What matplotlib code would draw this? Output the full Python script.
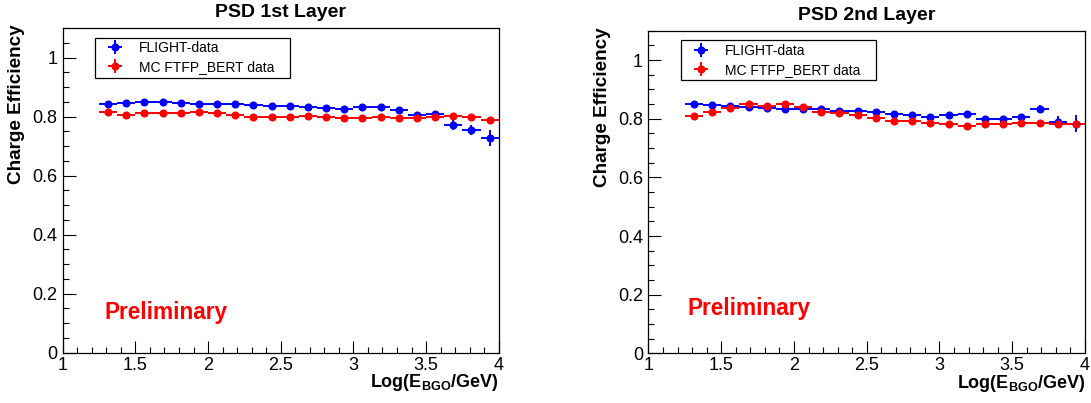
import numpy as np
import matplotlib
matplotlib.use("Agg")
import matplotlib.pyplot as plt
from matplotlib.ticker import MultipleLocator, FuncFormatter

# Police proche de Helvetica (style ROOT)
plt.rcParams['font.family'] = ['Liberation Sans', 'DejaVu Sans']
plt.rcParams['mathtext.fontset'] = 'custom'
plt.rcParams['mathtext.rm'] = 'Liberation Sans'
plt.rcParams['mathtext.bf'] = 'Liberation Sans:bold'

# Centres des bins en Log(E_BGO/GeV), largeur 0.125
x_bins = [1.3125, 1.4375, 1.5625, 1.6875, 1.8125, 1.9375, 2.0625, 2.1875,
          2.3125, 2.4375, 2.5625, 2.6875, 2.8125, 2.9375, 3.0625, 3.1875,
          3.3125, 3.4375, 3.5625, 3.6875, 3.8125, 3.9375]
demi_largeur = 0.0625

# PSD 1ere couche
psd1_vol = [0.844, 0.847, 0.849, 0.848, 0.846, 0.843, 0.841, 0.841, 0.838, 0.835, 0.835,
            0.834, 0.829, 0.825, 0.834, 0.832, 0.822, 0.805, 0.807, 0.772, 0.756, 0.728]
psd1_vol_err = [0.002, 0.002, 0.002, 0.002, 0.002, 0.002, 0.002, 0.002, 0.002, 0.002, 0.002,
                0.002, 0.003, 0.003, 0.003, 0.003, 0.003, 0.004, 0.007, 0.016, 0.017, 0.027]
psd1_mc = [0.815, 0.805, 0.811, 0.813, 0.812, 0.817, 0.811, 0.805, 0.799, 0.799, 0.800,
           0.802, 0.798, 0.794, 0.794, 0.797, 0.794, 0.796, 0.799, 0.802, 0.800, 0.788]
psd1_mc_err = [0.002] * 22

# PSD 2e couche
psd2_vol = [0.849, 0.846, 0.843, 0.839, 0.835, 0.834, 0.832, 0.832, 0.826, 0.826, 0.822,
            0.816, 0.812, 0.807, 0.812, 0.817, 0.800, 0.800, 0.806, 0.833, 0.790, 0.783]
psd2_vol_err = [0.002, 0.002, 0.002, 0.002, 0.002, 0.002, 0.002, 0.002, 0.002, 0.002, 0.002,
                0.002, 0.003, 0.003, 0.003, 0.003, 0.003, 0.004, 0.005, 0.014, 0.019, 0.028]
psd2_mc = [0.808, 0.823, 0.835, 0.851, 0.842, 0.849, 0.840, 0.823, 0.818, 0.812, 0.803,
           0.793, 0.792, 0.785, 0.782, 0.775, 0.782, 0.782, 0.784, 0.784, 0.783, 0.783]
psd2_mc_err = [0.003] * 22

titres = ["PSD 1st Layer", "PSD 2nd Layer"]
etiquettes = ["FLIGHT-data", "MC FTFP_BERT data"]


def tracer_panneau(ax, titre, y_vol, e_vol, y_mc, e_mc, prelim_xy):
    """Trace un panneau d'efficacite de charge (style ROOT)"""
    xerr = [demi_largeur] * len(x_bins)
    ax.errorbar(x_bins, y_vol, xerr=xerr, yerr=e_vol, fmt='o', color='blue',
                ms=4.8, elinewidth=1.4, capsize=0, label=etiquettes[0])
    ax.errorbar(x_bins, y_mc, xerr=xerr, yerr=e_mc, fmt='o', color='red',
                ms=4.8, elinewidth=1.4, capsize=0, label=etiquettes[1])

    ax.set_xlim(1, 4)
    ax.set_ylim(0, 1.1)
    ax.xaxis.set_major_locator(MultipleLocator(0.5))
    ax.xaxis.set_minor_locator(MultipleLocator(0.1))
    ax.yaxis.set_major_locator(MultipleLocator(0.2))
    ax.yaxis.set_minor_locator(MultipleLocator(0.05))
    fmt = FuncFormatter(lambda v, p: "%g" % round(v, 3))
    ax.xaxis.set_major_formatter(fmt)
    ax.yaxis.set_major_formatter(fmt)
    ax.tick_params(which='both', direction='in', top=False, right=False,
                   labelsize=13, width=0.8)
    ax.tick_params(axis='y', pad=4)
    ax.tick_params(axis='x', pad=3)
    ax.tick_params(which='major', length=9)
    ax.tick_params(which='minor', length=4.5)
    for s in ax.spines.values():
        s.set_linewidth(0.9)

    ax.text(0.5, 1.048, titre, transform=ax.transAxes, ha='center', va='center',
            fontsize=14, fontweight='bold')
    ax.text(-0.105, 1.01, "Charge Efficiency", transform=ax.transAxes, rotation=90,
            ha='center', va='top', fontsize=13.6, fontweight='bold')
    ax.text(1.0, -0.107, r"Log(E$_{\mathbf{BGO}}$/GeV)", transform=ax.transAxes,
            ha='right', va='baseline', fontsize=13, fontweight='bold')
    ax.text(prelim_xy[0], prelim_xy[1], "Preliminary", transform=ax.transAxes,
            ha='left', va='center', fontsize=16.3, fontweight='bold', color='red')

    leg = ax.legend(loc='upper left', bbox_to_anchor=(0.074, 0.846, 0.447, 0.124),
                    mode='expand', borderaxespad=0, fancybox=False, framealpha=1,
                    edgecolor='black', fontsize=10, handlelength=2.4,
                    handletextpad=0.5, labelspacing=0.35, borderpad=0.25)
    leg.get_frame().set_linewidth(0.9)


fig = plt.figure(figsize=(10.91, 4.03), dpi=100)
ax1 = fig.add_axes([0.0575, 0.1248, 0.3996, 0.8057])
ax2 = fig.add_axes([0.5944, 0.1233, 0.4001, 0.8005])

tracer_panneau(ax1, titres[0], psd1_vol, psd1_vol_err, psd1_mc, psd1_mc_err, (0.095, 0.125))
tracer_panneau(ax2, titres[1], psd2_vol, psd2_vol_err, psd2_mc, psd2_mc_err, (0.0905, 0.14))

fig.savefig("out.png", dpi=100)
